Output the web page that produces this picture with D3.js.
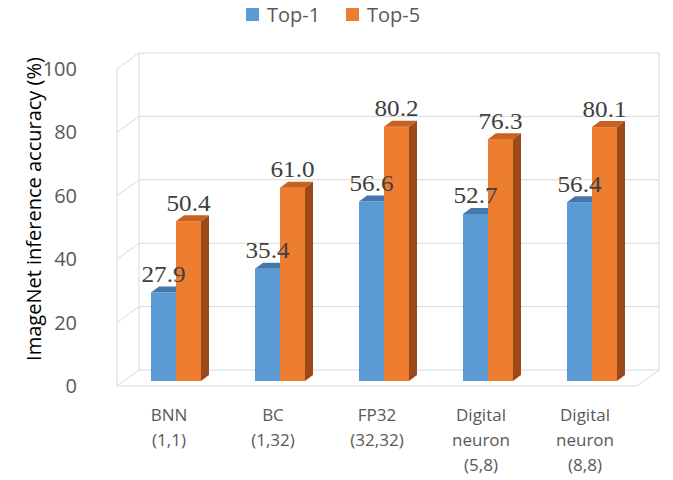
<!DOCTYPE html>
<html>
<head>
<meta charset="utf-8">
<script src="https://cdn.jsdelivr.net/npm/d3@7"></script>
<style>
  html, body { margin: 0; padding: 0; background: #fff; }
  svg { display: block; }
</style>
</head>
<body>
<div id="chart"></div>
<script>
// ---- data ----
const categories = ["BNN\n(1,1)", "BC\n(1,32)", "FP32\n(32,32)", "Digital\nneuron\n(5,8)", "Digital\nneuron\n(8,8)"];
const top1 = [27.9, 35.4, 56.6, 52.7, 56.4];
const top5 = [50.4, 61.0, 80.2, 76.3, 80.1];
const seriesNames = ["Top-1", "Top-5"];
const yTicks = [0, 20, 40, 60, 80, 100];
const yTitle = "ImageNet inference accuracy (%)";

// ---- layout ----
const W = 673, H = 480;
const floorFrontY = 386;
const frontLeft = 117, frontRight = 637;
const depthDX = 22, depthDY = -16;
const barDepthDX = 7, barDepthDY = -5;
const barSideDX = 8, barSideDY = -6;
const barW = 25;

const colors = {
  blue: { front: "#5B9BD5", top: "#4677AA", side: "#3E6A96" },
  orange: { front: "#ED7D31", top: "#C8621E", side: "#9C4A18" }
};

const svg = d3.select("#chart").append("svg").attr("width", W).attr("height", H);

const x = d3.scaleBand().domain(categories).range([frontLeft, frontRight]);
const y = d3.scaleLinear().domain([0, 100]).range([0, 317]);

const grid = "#D9D9D9";
const walls = svg.append("g").attr("fill", "none").attr("stroke", grid).attr("stroke-width", 1);

yTicks.forEach(t => {
  const yy = floorFrontY + depthDY - y(t);
  walls.append("line")
    .attr("x1", frontLeft + depthDX).attr("x2", frontRight + depthDX)
    .attr("y1", yy).attr("y2", yy);
  walls.append("line")
    .attr("x1", frontLeft).attr("y1", floorFrontY - y(t))
    .attr("x2", frontLeft + depthDX).attr("y2", yy);
});
[frontLeft + depthDX, frontRight + depthDX].forEach(xx => {
  walls.append("line").attr("x1", xx).attr("x2", xx)
    .attr("y1", floorFrontY + depthDY - y(100)).attr("y2", floorFrontY + depthDY);
});
walls.append("line").attr("x1", frontLeft).attr("x2", frontLeft)
  .attr("y1", floorFrontY - y(100)).attr("y2", floorFrontY);
walls.append("line").attr("x1", frontLeft).attr("x2", frontRight)
  .attr("y1", floorFrontY).attr("y2", floorFrontY);
walls.append("line").attr("x1", frontRight).attr("y1", floorFrontY)
  .attr("x2", frontRight + depthDX).attr("y2", floorFrontY + depthDY);

// ---- y tick labels ----
svg.append("g").selectAll("text").data(yTicks).join("text")
  .attr("x", 77).attr("y", d => floorFrontY - y(d))
  .attr("dy", "0.35em")
  .attr("text-anchor", "end")
  .attr("font-family", "'Open Sans', sans-serif")
  .attr("font-size", 20)
  .attr("fill", "#595959")
  .text(d => d);

// ---- y title ----
svg.append("text")
  .attr("transform", "translate(41,209) rotate(-90)")
  .attr("text-anchor", "middle")
  .attr("font-family", "'Open Sans', sans-serif")
  .attr("font-size", 20)
  .attr("fill", "#000")
  .text(yTitle);

// ---- bars ----
function drawBar(g, x1, v, c) {
  const base = floorFrontY + barDepthDY;
  const top = base - y(v);
  const x2 = x1 + barW;
  g.append("rect").attr("x", x1).attr("y", top).attr("width", barW).attr("height", base - top)
    .attr("fill", c.front);
  g.append("path").attr("d",
    `M${x1},${top}L${x2},${top}L${x2 + barSideDX},${top + barSideDY}L${x1 + barSideDX},${top + barSideDY}Z`)
    .attr("fill", c.top);
  g.append("path").attr("d",
    `M${x2},${top}L${x2 + barSideDX},${top + barSideDY}L${x2 + barSideDX},${base + barSideDY}L${x2},${base}Z`)
    .attr("fill", c.side);
  return { cx: x1 + barW / 2, top };
}

const labelLayer = [];
categories.forEach((cat, i) => {
  const g = svg.append("g");
  const cx = x(cat) + x.bandwidth() / 2 + barDepthDX;
  const b1 = drawBar(g, cx - barW, top1[i], colors.blue);
  const b5 = drawBar(g, cx, top5[i], colors.orange);
  labelLayer.push({ x: b1.cx, y: b1.top - 10.5, v: top1[i] });
  labelLayer.push({ x: b5.cx, y: b5.top - 10.5, v: top5[i] });
});

// ---- data labels ----
svg.append("g").selectAll("text").data(labelLayer).join("text")
  .attr("transform", d => `translate(${d.x},${d.y}) scale(1.05,1)`)
  .attr("text-anchor", "middle")
  .attr("font-family", "'Liberation Serif', 'Times New Roman', serif")
  .attr("font-size", 24)
  .attr("fill", "#404040")
  .text(d => d.v.toFixed(1));

// ---- x category labels ----
const xl = svg.append("g")
  .attr("font-family", "'Open Sans', sans-serif")
  .attr("font-size", 17)
  .attr("fill", "#595959")
  .attr("text-anchor", "middle");
categories.forEach(cat => {
  const lines = cat.split("\n");
  const cx = x(cat) + x.bandwidth() / 2;
  const t = xl.append("text");
  lines.forEach((ln, j) => {
    t.append("tspan").attr("x", cx).attr("y", 415 + j * 25).attr("dy", "0.35em").text(ln);
  });
});

// ---- legend ----
const legend = svg.append("g")
  .attr("font-family", "'Open Sans', sans-serif")
  .attr("font-size", 20)
  .attr("fill", "#595959");
const legendX = [246, 346];
const legendColors = [colors.blue.front, colors.orange.front];
seriesNames.forEach((s, i) => {
  legend.append("rect").attr("x", legendX[i]).attr("y", 8).attr("width", 13).attr("height", 13)
    .attr("fill", legendColors[i]);
  legend.append("text").attr("x", legendX[i] + 21).attr("y", 21.5).text(s);
});
</script>
</body>
</html>
